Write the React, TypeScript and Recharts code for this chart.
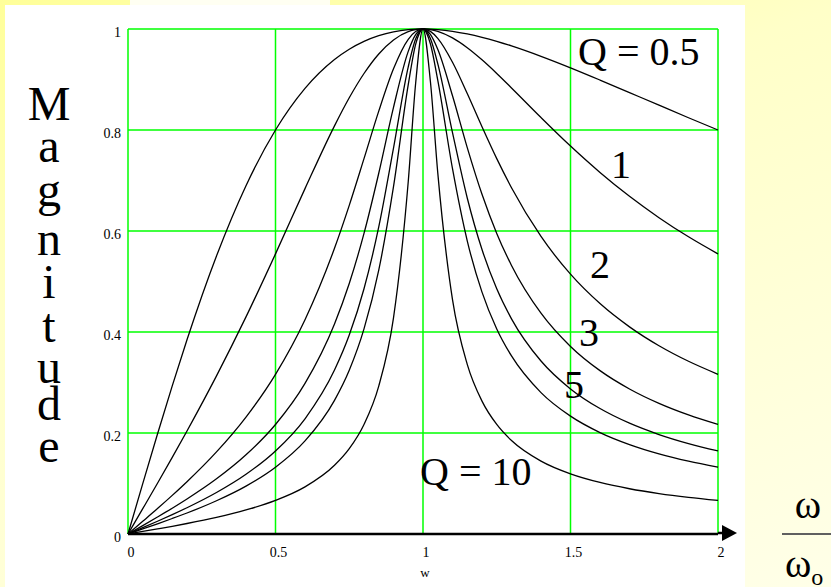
import React from 'react';
import { LineChart, Line, XAxis, YAxis, CartesianGrid, ReferenceLine } from 'recharts';

// Normalised frequency w = ω/ω0
const wValues = [0, 0.05, 0.1, 0.15, 0.2, 0.3, 0.4, 0.5, 0.6, 0.7, 0.75, 0.8, 0.85, 0.9, 0.95, 0.975, 1, 1.025, 1.05, 1.1, 1.15, 1.2, 1.25, 1.3, 1.4, 1.5, 1.6, 1.7, 1.8, 1.9, 2];

// Band-pass magnitude for each quality factor
const magQ05 = [0, 0.0998, 0.198, 0.2934, 0.3846, 0.5505, 0.6897, 0.8, 0.8824, 0.9396, 0.96, 0.9756, 0.9869, 0.9945, 0.9987, 0.9997, 1, 0.9997, 0.9988, 0.9955, 0.9903, 0.9836, 0.9756, 0.9665, 0.9459, 0.9231, 0.8989, 0.874, 0.8491, 0.8243, 0.8];
const magQ1 = [0, 0.0501, 0.1005, 0.1517, 0.204, 0.3131, 0.4299, 0.5547, 0.6839, 0.8082, 0.8638, 0.9119, 0.9506, 0.9784, 0.9948, 0.9987, 1, 0.9988, 0.9953, 0.9823, 0.9629, 0.9389, 0.9119, 0.8833, 0.8247, 0.7682, 0.716, 0.6687, 0.6264, 0.5885, 0.5547];
const magQ2 = [0, 0.0251, 0.0504, 0.0765, 0.1036, 0.1626, 0.2316, 0.3162, 0.4244, 0.5658, 0.6508, 0.7433, 0.8373, 0.9212, 0.9796, 0.9949, 1, 0.9952, 0.9815, 0.9342, 0.8722, 0.8064, 0.7433, 0.6857, 0.5892, 0.5145, 0.4563, 0.4102, 0.3728, 0.342, 0.3162];
const magQ3 = [0, 0.0167, 0.0337, 0.0511, 0.0693, 0.1092, 0.1568, 0.2169, 0.2983, 0.416, 0.4961, 0.5952, 0.7144, 0.8448, 0.9557, 0.9887, 1, 0.9892, 0.9597, 0.8678, 0.7652, 0.6727, 0.5952, 0.5318, 0.4372, 0.3714, 0.3235, 0.2872, 0.2587, 0.2358, 0.2169];
const magQ4 = [0, 0.0125, 0.0252, 0.0383, 0.052, 0.0821, 0.1182, 0.1644, 0.2282, 0.3246, 0.3939, 0.4856, 0.608, 0.764, 0.9251, 0.9801, 1, 0.981, 0.9315, 0.7948, 0.6654, 0.5633, 0.4856, 0.4261, 0.3425, 0.2873, 0.2484, 0.2194, 0.197, 0.1791, 0.1644];
const magQ5 = [0, 0.01, 0.0202, 0.0307, 0.0416, 0.0658, 0.0948, 0.1322, 0.1843, 0.2647, 0.3243, 0.4061, 0.5224, 0.6877, 0.8897, 0.9694, 1, 0.9708, 0.8987, 0.7234, 0.5806, 0.4789, 0.4061, 0.3526, 0.28, 0.2334, 0.2009, 0.1771, 0.1587, 0.1441, 0.1322];
const magQ10 = [0, 0.005, 0.0101, 0.0153, 0.0208, 0.0329, 0.0476, 0.0665, 0.0933, 0.136, 0.169, 0.2169, 0.2929, 0.4281, 0.6979, 0.8921, 1, 0.8966, 0.7156, 0.464, 0.3359, 0.2631, 0.2169, 0.1851, 0.1443, 0.1191, 0.102, 0.0896, 0.0801, 0.0726, 0.0665];

const seriesKeys = ['q05', 'q1', 'q2', 'q3', 'q4', 'q5', 'q10'];
const seriesValues = [magQ05, magQ1, magQ2, magQ3, magQ4, magQ5, magQ10];

const xTicks = [0, 0.5, 1, 1.5, 2];
const yTicks = [0, 0.2, 0.4, 0.6, 0.8, 1];
const yTitleLetters = ['M', 'a', 'g', 'n', 'i', 't', 'u', 'd', 'e'];
const yTitleBaselines = [120, 162, 206, 255, 298, 342, 383, 420, 462];

const rows = wValues.map((w, i) => {
  const row: Record<string, number> = { w };
  seriesKeys.forEach((k, s) => {
    row[k] = seriesValues[s][i];
  });
  return row;
});

const SERIF = '"Liberation Serif", "Times New Roman", serif';
const GRID = '#00ff00';

const YTick = (props: any) => (
  <text x={props.x} y={props.y} dy={8} textAnchor="end" fontFamily={SERIF} fontSize={14} fill="#000">
    {props.payload.value}
  </text>
);

const XTick = (props: any) => (
  <text x={props.x + 3} y={props.y} dy={23} textAnchor="middle" fontFamily={SERIF} fontSize={14} fill="#000">
    {props.payload.value}
  </text>
);

// Arrow head at the right end of the horizontal axis
const AxisArrow = (props: any) => {
  const { x, y, width } = props.viewBox;
  const end = x + width;
  return (
    <g>
      <line x1={end} x2={end + 5} y1={y - 1} y2={y - 1} stroke="#000" strokeWidth={2.5} />
      <polygon points={`${end + 4},${y - 9} ${end + 19},${y - 1} ${end + 4},${y + 7}`} fill="#000" />
    </g>
  );
};

export default function App() {
  return (
    <div
      style={{
        position: 'absolute',
        left: 0,
        top: 0,
        width: 831,
        height: 587,
        overflow: 'hidden',
        background: 'linear-gradient(160deg, #ffff99 0%, #ffffc8 35%, #ffffe8 100%)',
      }}
    >
      <div style={{ position: 'absolute', left: 5, top: 5, width: 740, height: 582, background: '#ffffff' }} />
      <div style={{ position: 'absolute', left: 130, top: 0, width: 200, height: 5, background: '#fffff2' }} />
      <div style={{ position: 'absolute', left: 0, top: 0 }}>
        <LineChart width={831} height={587} data={rows} margin={{ top: 29, right: 113, bottom: 23, left: 78 }}>
          <CartesianGrid stroke={GRID} strokeWidth={1.5} fill="none" />
          <XAxis
            type="number"
            dataKey="w"
            domain={[0, 2]}
            ticks={xTicks}
            axisLine={false}
            tickLine={false}
            tickSize={0}
            tickMargin={0}
            height={30}
            tick={<XTick />}
            interval={0}
          />
          <YAxis
            type="number"
            domain={[0, 1]}
            ticks={yTicks}
            axisLine={false}
            tickLine={false}
            tickSize={0}
            tickMargin={7}
            width={50}
            tick={<YTick />}
            interval={0}
          />
          <ReferenceLine y={0} stroke="#000" strokeWidth={2.5} label={AxisArrow} />
          {seriesKeys.map((k) => (
            <Line
              key={k}
              type="monotone"
              dataKey={k}
              stroke="#000"
              strokeWidth={1.3}
              dot={false}
              activeDot={false}
              isAnimationActive={false}
            />
          ))}
          <text x={425} y={577} textAnchor="middle" fontFamily={SERIF} fontSize={13} fill="#000">w</text>
          {yTitleLetters.map((ch, i) => (
            <text key={i} x={49} y={yTitleBaselines[i]} textAnchor="middle" fontFamily={SERIF} fontSize={48} fill="#000">
              {ch}
            </text>
          ))}
          <text x={578} y={65} fontFamily={SERIF} fontSize={40} fill="#000">Q = 0.5</text>
          <text x={621} y={178} textAnchor="middle" fontFamily={SERIF} fontSize={40} fill="#000">1</text>
          <text x={600} y={278} textAnchor="middle" fontFamily={SERIF} fontSize={40} fill="#000">2</text>
          <text x={589} y={346} textAnchor="middle" fontFamily={SERIF} fontSize={40} fill="#000">3</text>
          <text x={574} y={398} textAnchor="middle" fontFamily={SERIF} fontSize={40} fill="#000">5</text>
          <text x={420} y={485} fontFamily={SERIF} fontSize={40} fill="#000">Q = 10</text>
          <text x={808} y={518} textAnchor="middle" fontFamily={SERIF} fontSize={40} fill="#000">ω</text>
          <line x1={782} x2={831} y1={534} y2={534} stroke="#606060" strokeWidth={2} />
          <text x={785} y={577} fontFamily={SERIF} fontSize={40} fill="#000">
            ω<tspan fontSize={24} dy={8}>o</tspan>
          </text>
        </LineChart>
      </div>
    </div>
  );
}
